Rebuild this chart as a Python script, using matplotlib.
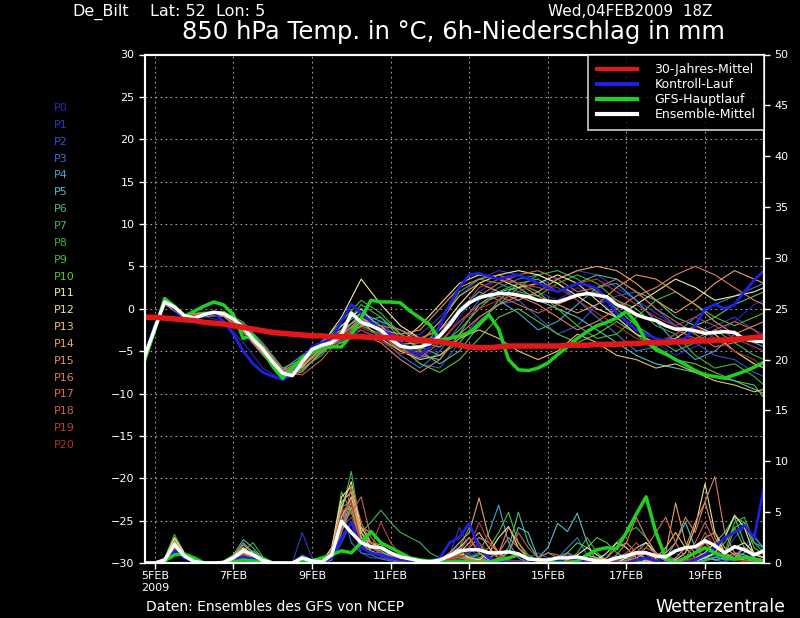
import numpy as np
import matplotlib.pyplot as plt
from matplotlib.lines import Line2D

# time axis in days after 04FEB2009 18Z (6-hourly steps, members read every 12h)
steps = np.arange(64) * 0.25
member_days = np.append(np.arange(0, 15.51, 0.5), 15.75)

tick_days = [0.25, 2.25, 4.25, 6.25, 8.25, 10.25, 12.25, 14.25]
tick_labels = ['5FEB\n2009', '7FEB', '9FEB', '11FEB', '13FEB', '15FEB', '17FEB', '19FEB']

member_names = ['P%d' % k for k in range(21)]
member_colors = ['#2a2ab8', '#3038c4', '#3452cc', '#3c72d4', '#48a0da', '#50c2c8', '#48c088',
                 '#40b454', '#40b040', '#4cbc36', '#58c630', '#f0f0a0', '#ece092', '#eac070',
                 '#e6a262', '#e29060', '#d88060', '#d47050', '#cc6050', '#bc4040', '#b03030']

# 850 hPa temperature of the members (12h)
member_temp = [
    [-5.5, 0.6, -1.2, -0.9, -1.5, -4.0, -7.0, -8.5, -6.5, -4.0, -2.5, -1.0, -3.0, -5.0, -6.0, -4.5, -1.0, 2.0, 3.5, 3.0, 2.0, 1.0, 2.5, 1.5, -1.0, -3.0, -4.0, -5.5, -4.5, -3.0, -1.5, 0.5, 1.0],
    [-5.6, 1.0, -0.8, -0.5, -0.8, -2.5, -5.0, -8.0, -6.8, -4.5, -3.0, -0.5, -2.0, -3.5, -3.0, -1.0, 1.5, 3.5, 4.5, 4.0, 3.0, 3.5, 4.5, 4.0, 2.5, 1.0, -0.5, -2.0, -3.0, -2.0, -1.0, -2.5, -3.0],
    [-5.4, 0.5, -1.0, -1.0, -0.5, -1.8, -4.0, -7.0, -7.5, -5.0, -3.5, -2.0, -1.5, -4.0, -6.5, -7.0, -4.0, -1.0, 0.5, 1.0, -1.0, -3.0, -2.0, 0.5, 1.5, 2.0, 0.0, -2.0, -4.0, -5.5, -6.0, -7.5, -8.0],
    [-5.5, 0.9, -0.7, -0.6, -0.9, -2.8, -5.5, -7.8, -6.0, -4.2, -4.0, -2.5, -3.5, -5.5, -7.0, -5.0, -2.0, 1.0, 2.5, 3.5, 4.0, 3.0, 1.0, -1.0, -3.0, -5.0, -4.5, -3.0, -1.0, 0.5, 1.5, 2.5, 3.0],
    [-5.5, 0.7, -1.1, -0.8, -0.4, -2.0, -4.5, -7.2, -5.5, -4.0, -2.0, -0.5, -1.5, -2.5, -4.0, -3.0, 0.0, 2.0, 1.0, -0.5, -2.5, -1.5, 0.5, 2.5, 3.0, 1.0, -1.5, -4.0, -6.0, -5.0, -3.0, -4.0, -4.5],
    [-5.5, 0.8, -0.9, -0.6, -0.5, -2.2, -5.0, -7.6, -6.5, -4.8, -3.2, -1.0, -2.8, -4.5, -5.5, -6.0, -3.0, 0.5, 2.0, 2.5, 1.0, 0.0, -1.0, -2.5, -4.0, -5.5, -6.5, -7.0, -7.5, -8.0, -8.5, -9.5, -10.0],
    [-5.5, 1.0, -0.8, -0.5, -0.7, -2.0, -4.8, -7.5, -6.8, -5.0, -3.5, -1.5, -1.0, -3.0, -5.0, -6.5, -5.0, -2.0, 1.0, 3.0, 3.5, 2.0, 3.0, 4.0, 3.5, 2.0, 1.0, -1.0, -2.0, -1.0, 0.5, 1.5, 2.0],
    [-5.6, 1.1, -1.0, -0.5, -0.6, -2.4, -5.2, -8.2, -7.0, -5.5, -2.5, 0.5, -1.0, -3.5, -4.5, -5.5, -4.0, -1.5, 0.5, 2.5, 4.0, 4.5, 3.5, 2.0, 0.0, -2.0, -3.5, -5.0, -4.0, -2.5, -4.0, -5.5, -6.0],
    [-5.5, 0.9, -0.9, -0.7, -0.8, -2.3, -4.6, -7.8, -6.2, -4.5, -3.8, -2.0, -3.0, -5.0, -5.0, -2.0, 2.0, 3.5, 3.0, 2.0, 1.5, 3.0, 4.0, 3.0, 1.0, 0.0, -2.0, -3.0, -5.5, -7.0, -6.5, -8.0, -9.0],
    [-5.5, 1.2, -0.7, -0.4, -0.3, -1.6, -4.2, -7.0, -6.0, -4.0, -1.5, 1.0, -0.5, -3.0, -4.0, -4.5, -2.5, 0.0, 2.0, 3.0, 2.0, 0.0, -2.0, -3.5, -3.0, -1.0, 1.0, 2.0, 0.5, -1.0, -2.0, -1.0, -0.5],
    [-5.5, 1.0, -1.0, -0.9, -0.6, -2.6, -5.0, -8.0, -7.2, -5.2, -3.0, -0.5, -2.0, -4.5, -6.5, -7.5, -6.0, -3.5, -1.0, 0.0, -1.5, -3.0, -4.0, -3.0, -1.5, -3.0, -5.0, -6.0, -6.5, -7.5, -8.5, -9.0, -10.5],
    [-5.5, 0.9, -0.8, -0.6, -0.6, -2.1, -4.5, -7.4, -6.4, -4.2, -1.0, 3.5, 0.5, -2.0, -3.5, -2.5, 0.5, 3.0, 4.0, 4.5, 4.0, 3.0, 1.5, 0.0, -1.0, 0.5, 2.0, 3.5, 2.5, 1.0, 1.5, 2.0, 2.5],
    [-5.5, 0.8, -0.9, -0.7, -0.5, -2.0, -4.8, -7.7, -6.6, -4.6, -2.0, 0.0, -2.5, -4.0, -2.0, 0.5, 3.0, 4.0, 3.5, 2.5, 3.0, 4.0, 3.0, 1.0, -1.0, -3.0, -4.0, -3.5, -2.0, -3.0, -5.0, -6.5, -7.0],
    [-5.5, 0.7, -1.0, -0.8, -0.7, -2.3, -4.9, -7.9, -6.9, -4.4, -3.0, -1.5, -3.5, -5.0, -6.0, -5.5, -3.5, -2.5, -3.5, -5.0, -6.0, -5.0, -3.0, -4.0, -5.5, -6.0, -7.0, -6.5, -7.5, -8.5, -9.0, -9.8, -9.5],
    [-5.5, 0.6, -1.0, -0.7, -0.6, -2.5, -5.3, -8.1, -6.7, -4.7, -3.4, -2.0, -2.0, -4.2, -4.0, -1.5, 1.5, 3.0, 2.0, 1.0, 2.0, 3.5, 4.5, 5.0, 4.5, 3.0, 1.0, -0.5, 1.0, 3.0, 4.5, 3.5, 3.0],
    [-5.5, 0.8, -0.8, -0.5, -0.4, -1.9, -4.4, -7.3, -6.1, -3.8, -2.5, -1.0, -2.5, -3.0, -2.5, 0.0, 2.5, 3.5, 4.0, 3.0, 1.5, 0.5, -0.5, 0.5, 2.5, 4.0, 3.5, 2.0, 0.5, -1.5, -3.0, -2.0, -1.5],
    [-5.5, 0.9, -0.9, -0.8, -0.9, -2.7, -5.4, -8.3, -7.4, -5.0, -4.0, -3.0, -4.0, -6.0, -7.5, -6.0, -3.0, -1.0, 0.5, 1.5, 0.5, -1.0, -2.5, -1.5, 0.0, 1.5, 2.5, 4.0, 5.0, 4.0, 2.5, 1.0, 0.5],
    [-5.5, 0.7, -1.1, -0.9, -0.7, -2.4, -5.1, -7.9, -6.6, -4.1, -2.8, -1.8, -2.0, -2.5, -3.5, -2.5, -0.5, 1.5, 3.0, 4.0, 4.5, 3.5, 2.0, 2.5, 3.5, 2.0, 0.0, -1.5, -3.0, -4.5, -4.0, -3.5, -3.0],
    [-5.5, 0.8, -1.0, -0.7, -0.6, -2.2, -4.7, -7.5, -7.8, -6.0, -3.2, -1.2, -2.8, -4.8, -5.8, -4.0, -1.5, 0.5, 1.5, 0.5, -0.5, 0.5, 1.5, 2.0, 1.0, -0.5, -1.5, -2.5, -3.5, -2.5, -1.5, -2.5, -3.5],
    [-5.5, 0.9, -0.9, -0.6, -0.5, -2.0, -4.6, -7.4, -6.3, -4.3, -3.3, -2.2, -3.2, -4.6, -4.8, -3.5, -0.5, 2.5, 3.5, 3.0, 2.5, 2.0, 3.0, 3.5, 2.0, 0.5, -1.0, -2.0, -1.0, -2.0, -3.5, -4.5, -5.0],
    [-5.5, 0.8, -1.0, -0.8, -0.6, -2.3, -5.0, -7.7, -6.6, -4.5, -3.0, -2.5, -3.8, -5.3, -5.2, -3.8, -1.5, 0.0, 1.0, 2.0, 3.0, 2.5, 1.0, -0.5, -2.0, -3.5, -4.0, -3.0, -2.0, -3.5, -5.0, -6.0, -7.0],
]

# 6h precipitation of the members (mm)
member_rain = [
    [0, 0, .3, 1.5, .6, .1, 0, 0, 0, .4, .8, .3, 0, 0, 0, 0, .5, 0, 0, .5, 3.5, 5.0, 2.0, 1.0, .8, .5, .3, .2, 0, 0, .2, .5,
     2.0, 1.0, .5, .3, 0, .2, 0, 0, 0, .3, .5, 1.0, .4, 0, 0, 0, .2, 0, 0, .5, 1.0, .3, 0, 0, .5, 1.0, .3, 0, .5, 1.5, 3.0, 1.0],
    [0, 0, .2, 1.8, .5, .1, 0, 0, 0, .6, 1.2, .5, .1, 0, 0, 0, 3.0, .5, 0, .8, 4.5, 6.0, 1.5, 2.0, 1.5, .8, .4, .2, 0, .1, .3, .8,
     3.5, 1.5, .5, .2, .1, 0, 0, .3, .5, .2, 0, 0, 0, 0, .5, .8, .3, 0, 0, 0, .2, .5, 1.0, .3, 0, .2, .5, 1.0, 2.5, 3.5, 2.0, 1.5],
    [0, 0, .3, 1.2, .8, .2, 0, 0, 0, .3, .5, .6, .2, 0, 0, 0, .3, .2, 0, .3, 2.0, 4.0, 1.0, .5, .5, .3, .2, 0, 0, .3, .5, .2,
     .5, .3, 0, 0, 0, 0, .2, .5, 1.0, .5, .2, 0, 0, 0, 0, .2, .5, 1.0, .3, 0, 0, .2, .5, .3, .2, .5, .8, .3, .2, .5, .3, .2],
    [0, 0, .4, 2.0, .6, .1, 0, 0, 0, .5, 1.0, .4, .1, 0, 0, 0, .8, .3, 0, 1.0, 5.5, 2.0, 1.0, .8, .4, .2, .1, 0, 0, 0, .3, 1.0,
     1.5, .8, .3, .5, 1.0, .3, 0, 0, 0, 0, .5, 1.5, 2.5, .8, .2, 0, 0, 0, .3, .5, 0, 0, .2, .3, 0, .5, .3, .1, .8, 1.5, .5, .3],
    [0, 0, .3, 1.6, .7, .2, 0, 0, .1, .6, 2.0, 1.0, .3, 0, 0, 0, .4, .2, .1, .6, 4.0, 6.5, 2.0, 1.0, 1.0, .8, .5, .3, .1, 0, .2, .6,
     1.0, .5, 1.0, 3.0, 5.7, 2.0, .5, 0, 0, .2, .6, 1.0, .5, .3, 0, 0, 0, .3, 1.0, 2.0, .8, .2, 0, 0, 0, .3, .6, .3, .5, 1.0, 2.5, 1.5],
    [0, 0, .3, 1.4, .5, .1, 0, 0, 0, .4, .7, 1.2, .5, .1, 0, 0, .2, .1, 0, .3, 3.0, 5.5, 2.5, 1.5, 1.2, .6, .2, .1, 0, 0, .1, .4,
     .8, .3, .2, 0, .5, 1.0, 3.5, 3.0, .5, 1.5, 3.9, 3.1, 4.9, 2.0, 0, 0, 0, 0, 0, 0, .5, 1.0, 2.0, 4.0, 1.5, .5, .3, .5, 1.0, .8, .5, .3],
    [0, 0, .4, 2.2, .9, .2, 0, 0, .2, .8, 2.3, 1.5, .4, 0, 0, 0, .6, .3, .2, 1.0, 6.0, 7.0, 3.0, 2.0, 1.5, 1.0, .6, .3, .2, .1, .3, .8,
     1.2, .6, .3, .2, .5, 1.5, 5.0, 2.0, .5, .2, .1, 0, 0, 0, 0, 0, .2, .5, 1.0, .5, .2, 0, 0, .3, .5, 1.0, 2.0, 3.0, 4.5, 2.0, 1.0, .5],
    [0, 0, .5, 2.8, 1.0, .2, 0, 0, .1, .5, 1.5, .8, .2, 0, 0, 0, .3, .2, .1, .8, 5.0, 9.0, 3.0, 4.0, 5.2, 4.0, 3.0, 2.5, 2.0, 1.0, .5, .3,
     .5, .3, .2, .1, 0, 0, 0, .2, .5, 1.0, .5, .2, 0, 0, 0, .5, 2.0, 3.0, 3.5, 2.5, 1.0, .3, 0, 0, 0, .2, .5, 1.0, 4.0, 4.5, 2.0, 1.0],
    [0, 0, .4, 2.4, .8, .2, 0, 0, .1, .4, 1.2, 2.0, .6, .1, 0, 0, .5, .3, .2, .8, 5.5, 6.0, 2.0, 1.0, .8, .5, .3, .2, .1, 0, .2, .8,
     1.5, 3.5, 2.0, .5, .3, 0, 0, 0, 0, 0, 0, .3, 1.0, 2.5, 1.0, .3, .1, 0, 0, 0, .3, .8, .3, 0, 0, .3, 1.0, 2.5, 4.5, 4.0, 2.0, 1.5],
    [0, 0, .3, 2.0, .7, .1, 0, 0, 0, .5, 1.0, .6, .2, 0, 0, 0, .4, .2, 0, 1.2, 7.0, 5.0, 2.0, 1.5, 1.0, .6, .4, .2, .1, 0, .1, .4,
     1.0, .5, .8, 1.5, 3.0, 5.0, 2.0, .8, .3, 0, 0, 0, 0, .2, .5, .3, 0, 0, .2, .5, .3, 0, 0, 0, .2, .6, 1.0, 2.0, 3.5, 1.5, .5, .3],
    [0, 0, .2, 1.6, .6, .1, 0, 0, 0, .3, .8, 1.0, .4, 0, 0, 0, .3, .1, 0, .5, 3.5, 5.5, 2.5, 2.0, 1.8, 1.0, .5, .3, .2, .1, .1, .3,
     .6, .3, .5, 1.0, .5, .2, 0, 0, 0, 0, .3, 1.0, 2.0, 1.5, 2.5, 2.0, 1.0, .5, .2, 0, 0, 0, .2, .5, 1.0, 2.0, 1.0, .5, 3.5, 4.0, 1.5, .8],
    [0, 0, .4, 2.5, 1.0, .2, 0, 0, .1, .6, 1.5, .8, .2, 0, 0, 0, .5, .2, .1, 1.5, 6.5, 7.5, 3.5, 2.0, 1.5, 1.0, .5, .3, .2, .1, .3, .6,
     1.0, .5, .3, 1.0, 2.5, 3.6, 1.5, .5, .2, 0, 0, .2, .8, 1.5, .8, .2, 0, .5, 1.5, 2.0, 1.0, .3, 0, 0, .2, .5, 1.0, 2.5, 4.7, 3.5, .8, .5],
    [0, 0, .3, 2.0, .8, .2, 0, 0, .1, .5, 1.2, .6, .2, 0, 0, 0, .4, .2, .1, 1.0, 5.5, 8.0, 3.0, 1.5, 1.0, .6, .3, .2, .1, 0, .2, .8,
     1.5, 2.5, 1.0, .3, .1, 0, 0, 0, 0, .2, .5, .3, 0, 0, .3, 1.0, 2.0, 1.5, .5, .2, 0, 0, .3, 1.0, 3.5, 7.8, 3.0, 1.0, 1.5, 2.0, 1.0, .5],
    [0, 0, .3, 1.8, .7, .1, 0, 0, 0, .4, 1.0, .5, .1, 0, 0, 0, .3, .1, 0, .8, 4.5, 6.5, 2.5, 1.2, .8, .5, .3, .2, .1, 0, .2, .5,
     1.0, 2.0, 3.0, 1.5, .5, .2, 0, 0, 0, 0, 0, 0, .3, .8, .5, .2, 0, 0, 0, .2, .5, 1.5, 3.0, 1.5, .5, 1.0, 2.0, .8, .5, .3, .2, .1],
    [0, 0, .4, 2.2, .9, .2, 0, 0, .1, .7, 1.8, 1.0, .3, 0, 0, 0, .5, .3, .1, 1.2, 6.0, 7.0, 2.5, 2.0, 1.5, .8, .4, .2, .1, 0, .3, 1.0,
     2.0, 3.0, 6.4, 2.5, 1.0, .3, 0, 0, 0, .2, .5, .3, .1, 0, 0, 0, 0, .2, .5, 1.0, .5, 1.0, 5.9, 2.0, 1.0, 2.5, 3.0, 1.5, .8, .5, .3, .2],
    [0, 0, .3, 1.5, .6, .1, 0, 0, 0, .4, .9, .5, .1, 0, 0, 0, .2, .1, 0, .6, 3.5, 6.0, 3.5, 3.0, 2.0, 1.5, 1.0, .5, .3, .2, .3, .5,
     .8, 1.5, 2.5, 2.0, 1.0, 3.5, 2.0, .5, .2, 0, 0, 0, 0, 0, .2, .5, 1.5, 2.0, 1.0, .3, 0, 0, .5, 1.5, 4.0, 6.0, 2.5, 1.0, .5, 1.5, 1.0, .5],
    [0, 0, .3, 1.7, .7, .2, 0, 0, .1, .5, 1.3, .8, .2, 0, 0, 0, .4, .2, .1, .9, 5.0, 5.5, 2.0, 1.0, .7, .4, .2, .1, 0, 0, .2, .5,
     .8, .4, .2, .5, 1.0, 2.5, 1.5, .5, .2, 0, 0, 0, 0, 0, 0, .2, .8, 2.0, 4.5, 2.5, 1.0, .5, 2.0, 4.5, 3.0, 6.0, 8.5, 3.0, 1.0, .5, .3, .2],
    [0, 0, .2, 1.3, .5, .1, 0, 0, 0, .3, .7, .4, .1, 0, 0, 0, .2, .1, 0, .5, 3.0, 7.5, 4.0, 2.0, 1.0, .6, .3, .2, .1, 0, .1, .3,
     .6, .3, .2, .1, 0, 0, 0, .2, .5, 1.0, .8, .3, .1, 0, 0, 0, 0, .2, .8, 1.5, 3.0, 4.5, 2.0, .5, 1.0, 2.0, 1.0, .5, .3, .2, .2, .1],
    [0, 0, .3, 1.6, .6, .1, 0, 0, 0, .4, 1.0, .6, .2, 0, 0, 0, .3, .2, .1, .8, 4.0, 5.0, 6.5, 2.5, 1.5, .8, .4, .2, .1, 0, .2, .6,
     1.2, 2.5, 1.0, .5, .3, 1.0, 3.0, 1.5, .5, .2, 0, 0, 0, 0, 0, 0, 0, 0, .5, 1.5, 1.0, .3, 0, .5, 2.0, 4.0, 2.0, .8, .3, .2, .1, 0],
    [0, 0, .3, 1.9, .8, .2, 0, 0, .1, .5, 1.1, .7, .2, 0, 0, 0, .4, .2, .1, 1.1, 5.0, 6.0, 2.0, 1.5, 4.0, 2.0, .8, .4, .2, .1, .2, .4,
     .8, 1.5, 4.0, 2.0, .8, .3, 0, 0, 0, 0, .3, .8, .5, .2, 0, 0, .3, 1.0, 2.0, 1.0, .3, 0, 0, .3, 1.0, 3.0, 1.5, .5, .3, .2, .1, .1],
    [0, 0, .2, 1.4, .6, .1, 0, 0, 0, .4, .8, .4, .1, 0, 0, 0, .2, .1, 0, .6, 3.5, 4.5, 2.0, 1.5, 1.0, .5, .3, .2, .1, 0, .1, .3,
     .5, 1.0, 2.0, 1.0, .5, .3, .2, 0, 0, 0, 0, .2, .5, .3, 0, 0, .2, .8, 1.5, .8, .3, 0, 0, .2, .5, 1.5, 1.0, .5, .3, .2, .1, 0],
]

# 6-hourly main curves
clim_temp = [-1.0, -1.0, -1.1, -1.2, -1.3, -1.4, -1.6, -1.7, -1.8, -2.0, -2.2, -2.4, -2.6, -2.8, -2.9, -3.0,
             -3.1, -3.2, -3.2, -3.3, -3.3, -3.3, -3.3, -3.4, -3.4, -3.4, -3.5, -3.6, -3.7, -3.8, -3.9, -4.1,
             -4.3, -4.5, -4.6, -4.6, -4.5, -4.4, -4.4, -4.4, -4.4, -4.4, -4.4, -4.3, -4.3, -4.3, -4.2, -4.2,
             -4.2, -4.1, -4.1, -4.0, -4.0, -4.0, -3.9, -3.9, -3.8, -3.8, -3.7, -3.7, -3.6, -3.5, -3.4, -3.3]
ctrl_temp = [-5.5, -2.0, 1.0, 0.0, -1.0, -1.2, -0.8, -0.5, -1.5, -3.0, -5.0, -6.5, -7.5, -8.0, -8.3, -7.8,
             -6.0, -4.5, -4.0, -3.5, -1.5, 0.5, -0.5, -1.5, -2.5, -3.0, -4.0, -5.0, -5.5, -4.5, -2.0, 0.5,
             2.5, 4.0, 4.2, 3.8, 3.5, 3.8, 4.0, 3.5, 3.0, 2.5, 2.0, 2.5, 3.0, 2.8, 2.4, 1.0,
             -0.5, -1.5, -2.5, -3.0, -3.5, -3.8, -3.7, -3.5, -2.0, 0.0, 0.5, 0.0, 0.5, 2.0, 3.4, 4.5]
gfs_temp = [-6.0, -2.5, 1.2, 0.3, -0.9, -0.3, 0.3, 0.8, 0.45, -0.7, -3.5, -3.1, -4.9, -6.8, -8.2, -7.0,
            -5.8, -5.2, -4.6, -4.5, -4.5, -3.1, -1.1, 1.0, 0.8, 0.8, 0.7, -0.3, -1.1, -1.9, -3.7, -3.5,
            -3.2, -2.8, -1.9, -0.7, -2.4, -6.0, -7.2, -7.3, -7.0, -6.4, -5.4, -4.5, -3.5, -2.7, -2.0, -1.6,
            -1.1, -0.3, -1.7, -3.8, -4.7, -5.3, -6.0, -6.6, -7.3, -7.8, -8.0, -8.2, -7.8, -7.4, -6.9, -6.3]
mean_temp = [-5.5, -2.3, 0.8, 0.2, -0.8, -1.1, -0.7, -0.4, -0.6, -1.2, -2.2, -3.6, -4.8, -6.3, -7.6, -7.9,
             -6.3, -4.8, -4.3, -4.0, -3.0, -0.5, -1.6, -2.0, -2.5, -3.6, -4.4, -4.6, -4.5, -4.1, -3.2, -1.9,
             -0.3, 0.7, 1.3, 1.6, 1.8, 1.8, 1.6, 1.4, 1.0, 0.9, 0.8, 1.2, 1.6, 1.8, 1.6, 1.4,
             0.5, 0.0, -0.7, -1.1, -1.4, -2.0, -2.4, -2.4, -2.6, -2.9, -2.8, -2.7, -2.8, -3.6, -3.8, -3.9]

ctrl_rain = [0, 0, .3, 1.2, .5, .1, 0, 0, 0, .3, .6, .4, .1, 0, 0, 0, .3, .2, 0, .5, 2.5, 4.0, 1.5, 1.0,
             .8, .5, .3, .2, .1, 0, .5, 2.0, 2.5, 3.9, 1.5, .5, .2, .1, 0, 0, 0, 0, .2, .5, .3, 0, 0, 0,
             0, 0, .3, .5, .2, 0, 0, 0, .3, .8, 1.5, 2.5, 3.0, 3.7, 2.5, 7.4]
gfs_rain = [0, 0, .2, .8, .9, .5, 0, 0, 0, .1, .3, .2, .1, 0, 0, 0, .3, .2, .5, .8, 1.2, 1.0, 2.0, 3.1,
            2.0, 1.5, 1.0, .5, .3, .2, .1, .1, .2, .1, 0, .1, .3, .5, .8, .5, .3, .1, 0, 0, .2, .8, 1.3, 1.5,
            1.4, 3.0, 4.8, 6.5, 3.0, .5, 0, .5, 1.0, 1.5, 1.0, .6, .4, .6, .3, .1]
mean_rain = [0, 0, .3, 1.8, .7, .15, 0, 0, .05, .5, 1.2, .8, .25, 0, 0, 0, .5, .2, .1, .8, 4.1, 3.0, 2.0, 1.6,
             1.5, 1.0, .6, .4, .2, .1, .3, .7, 1.2, 1.3, 1.3, 1.0, 1.0, 1.1, .9, .4, .3, .3, .5, .5, .6, .4, .2, .2,
             .5, .7, 1.0, 1.0, .7, .6, 1.2, 1.5, 1.6, 2.2, 1.7, 1.0, 1.6, 1.3, .8, 1.2]

legend_labels = ['30-Jahres-Mittel', 'Kontroll-Lauf', 'GFS-Hauptlauf', 'Ensemble-Mittel']
legend_colors = ['#e01818', '#2020e0', '#20d020', 'white']

fig = plt.figure(figsize=(8, 6.18), dpi=100, facecolor='black')
ax = fig.add_axes([145 / 800, 55 / 618, 619 / 800, 508.5 / 618])
ax.set_facecolor('black')
ax2 = ax.twinx()

for k in range(21):
    ax.plot(member_days, member_temp[k], color=member_colors[k], lw=0.8)
    ax2.plot(steps, member_rain[k], color=member_colors[k], lw=0.8)

ax.plot(steps, ctrl_temp, color='#2020e0', lw=2)
ax2.plot(steps, ctrl_rain, color='#2020e0', lw=2)
ax.plot(steps, gfs_temp, color='#20d020', lw=2.5)
ax2.plot(steps, gfs_rain, color='#20d020', lw=2.5)
ax.plot(steps, mean_temp, color='white', lw=2.5)
ax2.plot(steps, mean_rain, color='white', lw=2.5)
ax.plot(steps, clim_temp, color='#e01818', lw=4)

ax.set_xlim(0, 15.75)
ax.set_ylim(-30, 30)
ax2.set_ylim(0, 50)
ax.set_yticks(range(-30, 31, 5))
ax2.set_yticks(range(0, 51, 5))
ax.set_xticks(tick_days)
ax.set_xticklabels(tick_labels)
ax.grid(color='#a0a0a0', linestyle=(0, (1.5, 3)), lw=0.8)

for a in (ax, ax2):
    for s in a.spines.values():
        s.set_color('white')
        s.set_linewidth(1.5)
    a.tick_params(colors='white', labelsize=8, direction='out', length=4, width=1)
ax.tick_params(axis='x', pad=2)

handles = [Line2D([], [], color=c, lw=3) for c in legend_colors]
leg = ax2.legend(handles, legend_labels, loc='upper right', borderaxespad=0, frameon=True,
                 facecolor='black', edgecolor='white', fancybox=False, fontsize=9,
                 labelcolor='white', handlelength=3.2, handletextpad=1.4, borderpad=0.7,
                 labelspacing=0.15)
leg.get_frame().set_linewidth(1.2)

for k, name in enumerate(member_names):
    fig.text(54 / 800, 1 - (108 + k * 16.85) / 618, name, color=member_colors[k],
             fontsize=8, va='center', ha='left')

fig.text(72 / 800, 1 - 12 / 618, 'De_Bilt', color='white', fontsize=11.5, va='center')
fig.text(150 / 800, 1 - 12 / 618, 'Lat: 52  Lon: 5', color='white', fontsize=11.5, va='center')
fig.text(712 / 800, 1 - 12 / 618, 'Wed,04FEB2009  18Z', color='white', fontsize=11, va='center', ha='right')
fig.text(453 / 800, 1 - 32 / 618, '850 hPa Temp. in °C, 6h-Niederschlag in mm', color='white',
         fontsize=17.5, va='center', ha='center')
fig.text(146 / 800, 1 - 607 / 618, 'Daten: Ensembles des GFS von NCEP', color='white', fontsize=10, va='center')
fig.text(785 / 800, 1 - 607 / 618, 'Wetterzentrale', color='white', fontsize=12.5, va='center', ha='right')

fig.savefig('out.png', dpi=100, facecolor='black')
